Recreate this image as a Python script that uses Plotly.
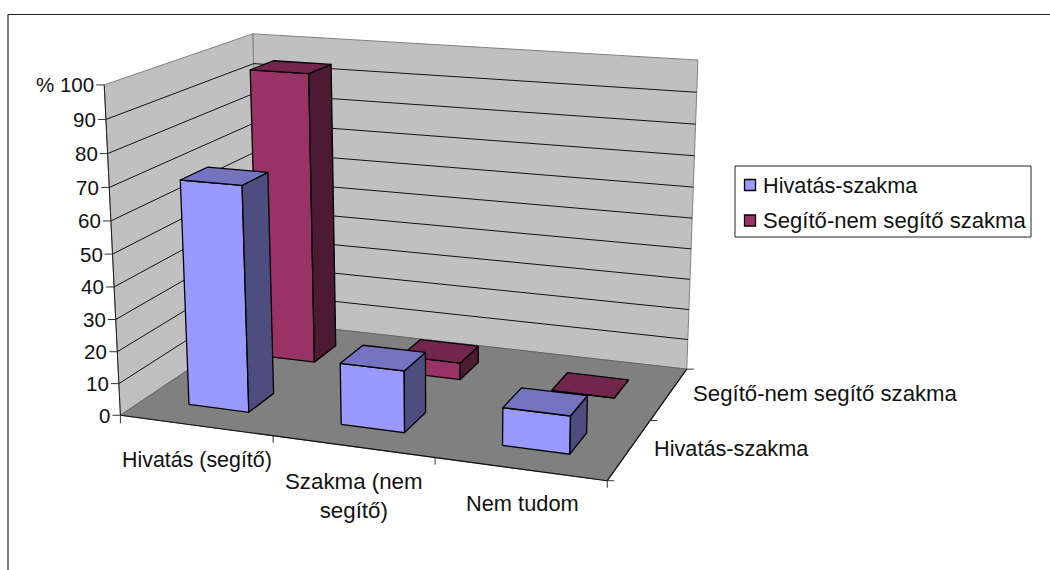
import numpy as np
import plotly.graph_objects as go

# ---- data ----
categories = ["Hivatás (segítő)", "Szakma (nem<br>segítő)", "Nem tudom"]
series_names = ["Hivatás-szakma", "Segítő-nem segítő szakma"]
hivatas_szakma = [70, 19, 11.5]
segito_nem_segito = [94.5, 5.5, 0]
value_ticks = [0, 10, 20, 30, 40, 50, 60, 70, 80, 90, 100]
tick_labels = ["0", "10", "20", "30", "40", "50", "60", "70", "80", "90", "% 100"]

# ---- colours ----
FRONT = ["#9999FF", "#993366"]
SIDE = ["#4D4D80", "#4D1A33"]
TOP = ["#7373BF", "#73264D"]
WALL = "#C0C0C0"
FLOOR = "#808080"
FONT = "Liberation Sans"
TXT = "#111111"

# ---- 3D chart box: perspective calibrated from its visible corners ----
calib = [
    ((0, 0, 0), (119, 414)), ((1, 0, 0), (608, 481)),
    ((1, 1, 0), (686, 369)), ((0, 1, 0), (262, 322)),
    ((0, 0, 1), (105, 86)), ((0, 1, 1), (252, 33)), ((1, 1, 1), (698, 60)),
]
rows, rhs = [], []
for (a, b, c), (px, py) in calib:
    rows.append([a, b, c, 1, 0, 0, 0, 0, -px * a, -px * b, -px * c]); rhs.append(px)
    rows.append([0, 0, 0, 0, a, b, c, 1, -py * a, -py * b, -py * c]); rhs.append(py)
P = np.append(np.linalg.lstsq(np.array(rows, float), np.array(rhs, float), rcond=None)[0], 1).reshape(3, 4)


def proj(u, v, w):
    """category position u, series depth v, value w (0-100) -> page position"""
    q = P @ np.array([u, v, w / 100.0, 1.0])
    return q[0] / q[2], q[1] / q[2]


def poly(points, fill, line=None, width=1.0):
    xy = [proj(*p) for p in points]
    xs = [p[0] for p in xy] + [xy[0][0]]
    ys = [p[1] for p in xy] + [xy[0][1]]
    return go.Scatter(x=xs, y=ys, mode="lines", fill="toself", fillcolor=fill,
                      line=dict(color=line or fill, width=width), hoverinfo="skip", showlegend=False)


def seg(p, q, color, width=1.0):
    a, b = proj(*p), proj(*q)
    return go.Scatter(x=[a[0], b[0]], y=[a[1], b[1]], mode="lines",
                      line=dict(color=color, width=width), hoverinfo="skip", showlegend=False)


fig = go.Figure()
# walls and floor
fig.add_trace(poly([(0, 1, 0), (1, 1, 0), (1, 1, 100), (0, 1, 100)], WALL, "#808080"))
fig.add_trace(poly([(0, 0, 0), (0, 1, 0), (0, 1, 100), (0, 0, 100)], WALL, "#808080"))
fig.add_trace(poly([(0, 0, 0), (1, 0, 0), (1, 1, 0), (0, 1, 0)], FLOOR, "#666666"))

# gridlines
for t in value_ticks[1:-1]:
    fig.add_trace(seg((0, 0, t), (0, 1, t), "#111111"))
    fig.add_trace(seg((0, 1, t), (1, 1, t), "#111111"))

# axis lines
fig.add_trace(seg((0, 0, 0), (0, 0, 100), "#222222"))
fig.add_trace(seg((0, 0, 0), (1, 0, 0), "#111111", 1.2))
fig.add_trace(seg((1, 0, 0), (1, 1, 0), "#111111", 1.2))


def off(p, dx, dy):
    x, y = proj(*p)
    return go.Scatter(x=[x, x + dx], y=[y, y + dy], mode="lines",
                      line=dict(color="#333333", width=1), hoverinfo="skip", showlegend=False)


# ticks
for t in value_ticks:
    fig.add_trace(off((0, 0, t), -8, 0))
fig.add_trace(off((0, 0, 0), 0, 8))
for i in range(1, len(categories) + 1):
    fig.add_trace(off((i / len(categories), 0, 0), 0, 7))
for i in range(0, len(series_names) + 1):
    fig.add_trace(off((1, i / len(series_names), 0), 7, 0))

# bars, drawn back to front
GAP = 0.3
DEPTH_GAP = [0.31, 0.33]
for s in (1, 0):
    vals = [hivatas_szakma, segito_nem_segito][s]
    v0 = (s + DEPTH_GAP[0]) / 2
    v1 = (s + 1 - DEPTH_GAP[1]) / 2
    for k, val in enumerate(vals):
        u0 = (k + GAP) / 3
        u1 = (k + 1 - GAP) / 3
        fig.add_trace(poly([(u0, v0, 0), (u1, v0, 0), (u1, v0, val), (u0, v0, val)], FRONT[s], "#000000", 1.3))
        fig.add_trace(poly([(u1, v0, 0), (u1, v1, 0), (u1, v1, val), (u1, v0, val)], SIDE[s], "#000000", 1.3))
        fig.add_trace(poly([(u0, v0, val), (u1, v0, val), (u1, v1, val), (u0, v1, val)], TOP[s], "#000000", 1.3))

# legend: box, swatches and labels
LEG_Y = [185, 220.5]
fig.add_shape(type="rect", xref="x", yref="y", x0=735, x1=1031, y0=166, y1=237,
              line=dict(color="#222222", width=1), fillcolor="white", layer="below")
for s, name in enumerate(series_names):
    fig.add_trace(go.Scatter(x=[750], y=[LEG_Y[s]], mode="markers", name=name, showlegend=False,
                             hoverinfo="name",
                             marker=dict(symbol="square", size=11, color=FRONT[s],
                                         line=dict(color="#000000", width=1.3))))

anns = []
# value labels
for t, lab in zip(value_ticks, tick_labels):
    x, y = proj(0, 0, t)
    anns.append(dict(x=x - 10, y=y, text=lab, xanchor="right", yanchor="middle", size=20.5))
# category labels
cat_pos = [(196.5, 460, 21.4), (354, 496, 22.3), (522, 503, 21.8)]
for c, (x, y, fs) in zip(categories, cat_pos):
    anns.append(dict(x=x, y=y, text=c, xanchor="center", yanchor="middle", align="center", size=fs))
# depth-axis labels
anns.append(dict(x=693, y=393, text=series_names[1], xanchor="left", yanchor="middle", size=22.2))
anns.append(dict(x=654, y=448, text=series_names[0], xanchor="left", yanchor="middle", size=21.7))
# legend labels
anns.append(dict(x=763, y=LEG_Y[0], text=series_names[0], xanchor="left", yanchor="middle", size=21.7))
anns.append(dict(x=763, y=LEG_Y[1], text=series_names[1], xanchor="left", yanchor="middle", size=22.1))
for a in anns:
    fs = a.pop("size")
    a.update(xref="x", yref="y", showarrow=False, borderpad=0, borderwidth=0,
             font=dict(family=FONT, size=fs, color=TXT))

fig.update_layout(
    width=1050, height=570, margin=dict(l=0, r=0, t=0, b=0),
    paper_bgcolor="white", plot_bgcolor="white",
    xaxis=dict(range=[0, 1050], visible=False, fixedrange=True),
    yaxis=dict(range=[570, 0], visible=False, fixedrange=True),
    annotations=anns,
    showlegend=False,
)
fig.add_shape(type="line", xref="x", yref="y", x0=8, x1=8, y0=14.5, y1=570, line=dict(color="#222222", width=1.2))
fig.add_shape(type="line", xref="x", yref="y", x0=8, x1=1050, y0=14.5, y1=14.5, line=dict(color="#222222", width=1.2))
fig.write_html("out.html", config=dict(displayModeBar=False),
               post_script="document.body.style.margin='0';document.body.style.overflow='hidden';")
